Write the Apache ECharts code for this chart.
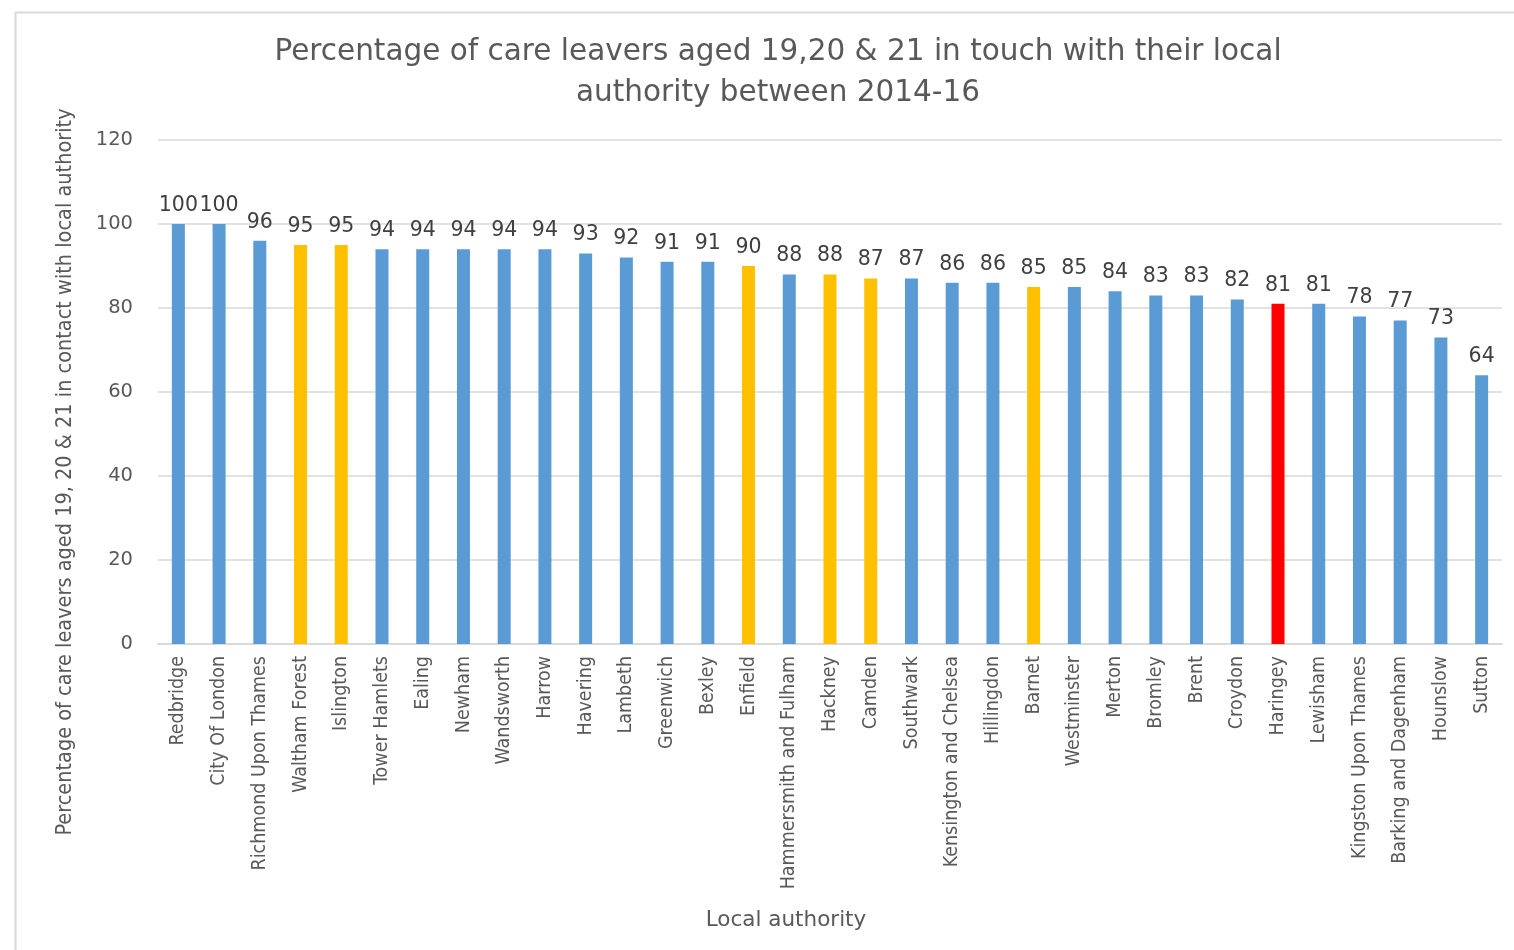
<!DOCTYPE html>
<html><head><meta charset="utf-8">
<script src="https://cdn.jsdelivr.net/npm/echarts@6/dist/echarts.min.js"></script>
<style>html,body{margin:0;padding:0;background:#fff}#c{width:1514px;height:950px}</style>
</head><body><div id="c"></div>
<script>
const categories = ["Redbridge","City Of London","Richmond Upon Thames","Waltham Forest","Islington","Tower Hamlets","Ealing","Newham","Wandsworth","Harrow","Havering","Lambeth","Greenwich","Bexley","Enfield","Hammersmith and Fulham","Hackney","Camden","Southwark","Kensington and Chelsea","Hillingdon","Barnet","Westminster","Merton","Bromley","Brent","Croydon","Haringey","Lewisham","Kingston Upon Thames","Barking and Dagenham","Hounslow","Sutton"];
const values = [100,100,96,95,95,94,94,94,94,94,93,92,91,91,90,88,88,87,87,86,86,85,85,84,83,83,82,81,81,78,77,73,64];
const highlightYellow = ["Waltham Forest","Islington","Enfield","Hackney","Camden","Barnet"];
const highlightRed = ["Haringey"];
const yTicks = [0,20,40,60,80,100,120];

const BLUE = '#5B9BD5', YELLOW = '#FFC000', RED = '#FF0000';
const data = values.map((v,i)=>({
  value: v,
  itemStyle: {color: highlightRed.includes(categories[i]) ? RED : (highlightYellow.includes(categories[i]) ? YELLOW : BLUE)}
}));
const chart = echarts.init(document.getElementById('c'));
chart.setOption({
  animation:false,
  backgroundColor:'#fff',
  title:{
    text:'Percentage of care leavers aged 19,20 & 21 in touch with their local\nauthority between 2014-16',
    left:773, top:27, textAlign:'center',
    textStyle:{fontFamily:'DejaVu Sans, sans-serif', fontSize:29.5, fontWeight:'normal', color:'#595959', lineHeight:41}
  },
  grid:{left:158, right:12, top:140, bottom:306, containLabel:false},
  xAxis:{
    type:'category', data:categories,
    axisLine:{lineStyle:{color:'#D9D9D9', width:2}},
    axisTick:{show:false},
    axisLabel:{rotate:90, interval:0, margin:12, fontFamily:'Liberation Sans Narrow, DejaVu Sans Condensed, sans-serif', fontSize:19.5, color:'#595959'}
  },
  yAxis:{
    type:'value', min:0, max:120, interval:20,
    axisLine:{show:false}, axisTick:{show:false},
    splitLine:{lineStyle:{color:'#D9D9D9', width:1.5}},
    axisLabel:{margin:25, fontFamily:'DejaVu Sans, sans-serif', fontSize:19.5, color:'#595959',
      formatter:v=>yTicks.includes(v)?String(v):''}
  },
  series:[{
    type:'bar', data:data, barWidth:13,
    label:{show:true, position:'top', distance:8, fontFamily:'DejaVu Sans, sans-serif', fontSize:20.5, color:'#404040'}
  }],
  graphic:[
    {type:'rect', left:13, top:10, shape:{width:1520, height:960}, style:{fill:null, stroke:'#D9D9D9', lineWidth:2}, z:-1},
    {type:'text', x:65, y:472, rotation:Math.PI/2, style:{text:'Percentage of care leavers aged 19, 20 & 21 in contact with local authority', fontFamily:'Liberation Sans Narrow, DejaVu Sans Condensed, sans-serif', fontSize:21.5, fill:'#595959', textAlign:'center', textVerticalAlign:'middle'}},
    {type:'text', x:786, y:920, style:{text:'Local authority', fontFamily:'DejaVu Sans, sans-serif', fontSize:21.5, fill:'#595959', textAlign:'center', textVerticalAlign:'middle'}}
  ]
});
</script></body></html>
